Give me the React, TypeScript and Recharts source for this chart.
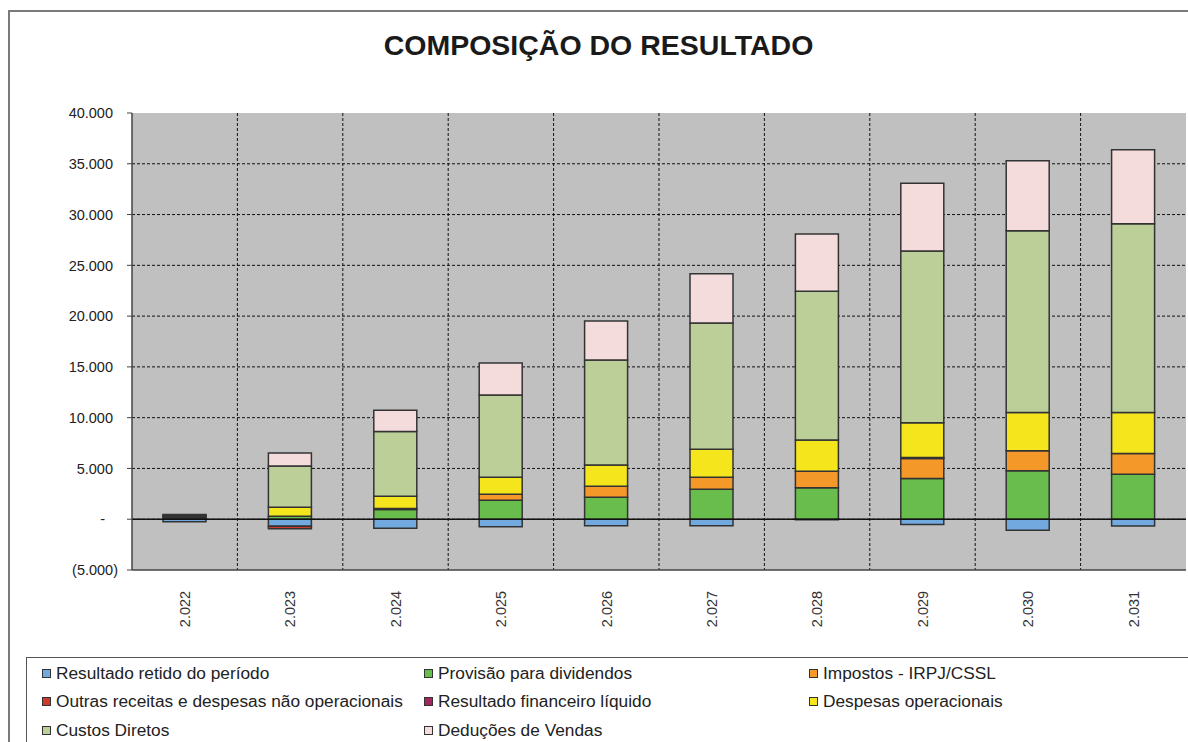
import React from "react"
import { BarChart, Bar, XAxis, YAxis, CartesianGrid, ReferenceLine } from "recharts"

// Years on the category axis
const categories = ["2.022", "2.023", "2.024", "2.025", "2.026", "2.027", "2.028", "2.029", "2.030", "2.031"]

// Series values
const resultadoRetido = [-250, -700, -900, -750, -650, -650, -60, -530, -1090, -660]
const provisaoDividendos = [80, 300, 950, 1870, 2170, 2960, 3090, 4010, 4770, 4440]
const impostos = [40, 0, 0, 600, 1080, 1180, 1640, 1980, 1970, 2040]
const outrasReceitas = [0, -250, 0, 0, 0, 0, 0, 0, 0, 0]
const resultadoFinanceiro = [0, 0, 100, 0, 0, 0, 0, 80, 0, 0]
const despesasOperacionais = [120, 880, 1200, 1670, 2080, 2760, 3060, 3440, 3780, 4040]
const custosDiretos = [150, 4050, 6400, 8090, 10350, 12430, 14660, 16900, 17880, 18570]
const deducoesVendas = [80, 1280, 2070, 3150, 3850, 4830, 5630, 6680, 6910, 7300]

const yTicks = [-5000, 0, 5000, 10000, 15000, 20000, 25000, 30000, 35000, 40000]

const series = [
	{ key: "retido", name: "Resultado retido do período", color: "#72a9df", values: resultadoRetido },
	{ key: "provisao", name: "Provisão para dividendos", color: "#68bd4c", values: provisaoDividendos },
	{ key: "impostos", name: "Impostos - IRPJ/CSSL", color: "#f4982a", values: impostos },
	{ key: "outras", name: "Outras receitas e despesas não operacionais", color: "#cc3a2e", values: outrasReceitas },
	{ key: "financeiro", name: "Resultado financeiro líquido", color: "#a3265e", values: resultadoFinanceiro },
	{ key: "despesas", name: "Despesas operacionais", color: "#f5e51c", values: despesasOperacionais },
	{ key: "custos", name: "Custos Diretos", color: "#bccf98", values: custosDiretos },
	{ key: "deducoes", name: "Deduções de Vendas", color: "#f5dcdc", values: deducoesVendas },
]

const data = categories.map((year, i) => {
	const row: Record<string, any> = { year }
	series.forEach((s) => (row[s.key] = s.values[i]))
	return row
})

const FONT = '"Liberation Sans", Arial, sans-serif'

const fmt = (n: number) => String(n).replace(/\B(?=(\d{3})+(?!\d))/g, ".")

// Accounting style labels: "-" for zero, parentheses for negatives
const YTick = ({ x, y, payload }: any) => {
	const v = payload.value as number
	let label = fmt(v)
	let dx = -14
	if (v === 0) {
		label = "-"
		dx = -22
	} else if (v < 0) {
		label = `(${fmt(-v)})`
		dx = -9
	}
	return (
		<text x={x + dx} y={y} dy="0.36em" textAnchor="end" fontSize={14.5} fontFamily={FONT} fill="#222">
			{label}
		</text>
	)
}

const XTick = ({ x, y, payload }: any) => (
	<g transform={`translate(${x},${y + 31}) rotate(-90)`}>
		<text textAnchor="middle" dy="0.36em" fontSize={14.5} fontFamily={FONT} fill="#333">
			{payload.value}
		</text>
	</g>
)

const App: React.FC = () => {
	return (
		<div style={{ position: "relative", width: 1188, height: 742, background: "#fff", overflow: "hidden", fontFamily: FONT }}>
			<style>{`body{margin:0}`}</style>
			{/* outer frame */}
			<div
				style={{
					position: "absolute",
					left: 8,
					top: 10,
					width: 1190,
					height: 740,
					borderTop: "2px solid #7a7a7a",
					borderLeft: "2px solid #7a7a7a",
				}}
			/>
			<div
				style={{
					position: "absolute",
					left: 0,
					width: 1197,
					top: 31,
					textAlign: "center",
					fontSize: 28.5,
					fontWeight: "bold",
					lineHeight: 1,
					color: "#1a1a1a",
				}}>
				COMPOSIÇÃO DO RESULTADO
			</div>
			<div style={{ position: "absolute", left: 0, top: 0 }}>
				<BarChart
					width={1188}
					height={742}
					data={data}
					stackOffset="sign"
					margin={{ top: 113, right: 2, left: 0, bottom: 112 }}>
					<CartesianGrid
						fill="#c0c0c0"
						fillOpacity={1}
						stroke="#111"
						strokeDasharray="3 2"
						horizontalCoordinatesGenerator={({ offset }: any) =>
							yTicks.slice(1, -1).map((_, i) => offset.top + ((i + 1) * offset.height) / (yTicks.length - 1))
						}
						verticalCoordinatesGenerator={({ offset }: any) =>
							categories.slice(1).map((_, i) => offset.left + ((i + 1) * offset.width) / categories.length)
						}
					/>
					<XAxis
						dataKey="year"
						height={60}
						tick={<XTick />}
						tickLine={false}
						axisLine={{ stroke: "#444", strokeWidth: 1.5 }}
						interval={0}
					/>
					<YAxis
						width={132}
						domain={[-5000, 40000]}
						ticks={yTicks}
						tick={<YTick />}
						tickSize={5}
						tickMargin={0}
						tickLine={{ stroke: "#444" }}
						axisLine={{ stroke: "#444", strokeWidth: 1.5 }}
						interval={0}
					/>
					{series.map((s) => (
						<Bar
							key={s.key}
							dataKey={s.key}
							name={s.name}
							stackId="a"
							fill={s.color}
							stroke="#333"
							strokeWidth={1.5}
							barSize={43}
							isAnimationActive={false}
						/>
					))}
					<ReferenceLine y={0} stroke="#111" strokeWidth={1.5} />
				</BarChart>
			</div>
			{/* legend box */}
			<div
				style={{
					position: "absolute",
					left: 26,
					top: 657,
					width: 1180,
					height: 100,
					border: "1.5px solid #555",
					background: "#fff",
				}}
			/>
			{series.map((s, i) => {
				const col = i % 3
				const row = Math.floor(i / 3)
				const left = [42, 424, 809][col]
				const top = [673, 701, 730][row]
				return (
					<div
						key={s.key}
						style={{
							position: "absolute",
							left,
							top: top - 10,
							height: 20,
							display: "flex",
							alignItems: "center",
							fontSize: 17.3,
							color: "#222",
							whiteSpace: "nowrap",
						}}>
						<span
							style={{
								display: "inline-block",
								width: 7,
								height: 7,
								background: s.color,
								border: "1px solid #333",
								marginRight: 5,
							}}
						/>
						{s.name}
					</div>
				)
			})}
		</div>
	)
}

export default App
